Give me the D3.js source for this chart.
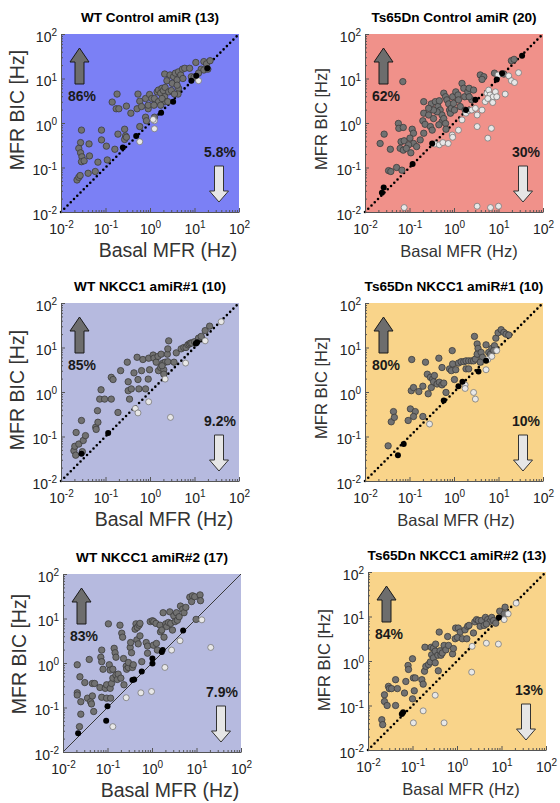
<!DOCTYPE html>
<html><head><meta charset="utf-8">
<script src="https://cdn.jsdelivr.net/npm/d3@7"></script>
<style>body{margin:0;background:#fff}svg{display:block}</style>
</head><body>
<script>
// ---------- DATA (values are log10 of Hz: [log10 Basal MFR, log10 MFR BIC]) ----------
const titles = ["WT Control amiR (13)", "Ts65Dn Control amiR (20)", "WT NKCC1 amiR#1 (10)",
  "Ts65Dn NKCC1 amiR#1 (10)", "WT NKCC1 amiR#2 (17)", "Ts65Dn NKCC1 amiR#2 (13)"];
const pctUp = ["86%", "62%", "85%", "80%", "83%", "84%"];
const pctDown = ["5.8%", "30%", "9.2%", "10%", "7.9%", "13%"];
const tickValues = [0.01, 0.1, 1, 10, 100];

const p1Gray = [[-1.64,-1.28],[-1.60,-1.22],[-1.57,-1.18],[-1.54,-0.16],[-1.56,-0.44],[-1.60,-0.57],[-1.56,-0.67],[-1.53,-0.76],[-1.54,-0.87],[-1.48,-0.85],[-1.36,-0.74],[-1.37,-0.47],[-1.39,-1.13],[-1.23,-1.09],[-1.17,-0.88],[-1.09,-0.16],[-1.09,-0.38],[-0.98,-0.52],[-0.96,-0.83],[-0.79,-0.59],[-0.72,-0.25],[-0.57,-0.14],[-0.55,-0.29],[-0.57,-0.37],[-0.53,-0.32],[-0.74,0.65],[-0.85,0.47],[-0.76,0.32],[-0.70,0.32],[-0.53,0.38],[-0.43,0.22],[-0.27,0.65],[-0.29,0.32],[-0.23,0.49],[-0.19,0.37],[-0.10,0.55],[-0.04,0.32],[-0.01,0.64],[0.04,0.55],[-0.10,0.13],[-0.08,0.05],[-0.23,-0.08],[-0.04,0.40],[0.10,0.55],[0.16,0.70],[0.19,0.74],[0.24,0.67],[0.27,0.78],[0.30,0.73],[0.34,0.80],[0.33,0.59],[0.34,0.48],[0.33,1.10],[0.38,0.95],[0.45,1.08],[0.50,0.89],[0.53,1.04],[0.57,1.12],[0.61,0.97],[0.64,1.15],[0.69,1.08],[0.73,1.21],[0.78,1.23],[0.74,1.00],[0.64,0.78],[0.63,0.65],[0.61,0.85],[0.42,0.70],[0.48,0.73],[0.55,0.65],[0.19,0.48],[0.24,0.40],[0.27,0.55],[0.40,0.48],[0.09,0.40],[0.10,0.13],[0.89,1.23],[1.03,1.36],[1.21,1.38],[1.27,1.33],[1.35,1.40],[1.15,1.21],[1.21,1.19],[1.30,1.21],[0.93,1.04],[0.99,1.03],[1.09,1.12]];
const p1White = [[0.10,0.05],[0.10,-0.13],[-0.23,-0.42],[1.09,0.95],[0.07,0.08]];
const p1Black = [[-0.61,-0.55],[-0.31,-0.29],[0.25,0.23],[0.52,0.48],[0.93,0.95],[1.04,1.06],[1.29,1.23]];

const p2Gray = [[-1.15,0.93],[-1.57,-0.25],[-1.66,-0.46],[-1.43,-0.59],[-1.47,-1.07],[-1.42,-1.09],[-1.29,-1.00],[-1.17,-1.06],[-1.25,-0.01],[-1.24,-0.12],[-1.14,-0.10],[-0.94,-0.14],[-0.91,-0.23],[-1.19,-0.42],[-1.12,-0.40],[-0.99,-0.34],[-0.91,-0.46],[-1.02,-0.49],[-1.21,-0.57],[-1.14,-0.61],[-1.07,-0.57],[-0.97,-0.67],[-0.84,-0.53],[-0.76,-0.38],[-0.68,-0.23],[-0.70,0.05],[-0.68,0.22],[-0.65,-0.03],[-0.53,-0.08],[-0.49,-0.16],[-0.68,0.48],[-0.51,0.43],[-0.42,0.48],[-0.36,0.37],[-0.33,0.50],[-0.31,0.29],[-0.27,0.18],[-0.23,0.67],[-0.19,0.59],[-0.16,0.52],[-0.12,0.43],[-0.10,0.29],[-0.08,0.22],[-0.06,0.33],[-0.03,0.59],[-0.01,0.44],[0.01,0.29],[0.04,0.70],[0.09,0.63],[0.10,0.52],[0.14,0.37],[0.18,0.89],[0.22,0.78],[0.24,0.59],[0.25,0.29],[0.31,0.70],[0.34,0.78],[0.40,0.52],[0.44,0.74],[0.34,0.59],[0.59,1.08],[0.67,1.04],[0.63,0.98],[0.91,1.12],[1.12,1.10],[1.29,1.40],[1.35,1.43],[-0.57,0.18],[-0.46,0.10],[-0.38,0.25],[-0.27,0.03],[-0.23,0.10],[-0.19,-0.01],[-0.18,-0.14],[-0.46,0.29],[-0.57,0.33],[-0.34,-0.04]];
const p2White = [[-0.43,-0.47],[-0.33,-0.49],[-0.25,-0.44],[-0.13,-0.46],[-0.04,-0.27],[-0.03,-0.32],[0.10,-0.16],[0.18,0.07],[0.27,0.22],[0.33,0.28],[0.40,0.29],[0.52,0.18],[0.52,-0.08],[0.48,0.33],[0.63,0.29],[0.70,0.48],[0.74,0.67],[0.78,0.74],[0.81,0.63],[0.85,0.52],[0.88,0.59],[0.93,0.70],[0.96,0.59],[0.87,0.46],[0.76,0.55],[0.84,-0.12],[0.76,-0.34],[0.99,1.08],[1.15,0.65],[1.23,1.06],[1.29,0.95],[1.36,0.91],[1.45,1.13],[-1.12,-1.90],[0.52,-1.87],[0.82,-1.90],[1.00,-1.87]];
const p2Black = [[-1.62,-1.57],[-1.58,-1.45],[-0.93,-0.92],[-0.49,-0.46],[0.27,0.29],[0.48,0.52],[0.96,0.98],[1.08,1.12],[1.53,1.51]];

const p3Gray = [[-1.71,-1.32],[-1.69,-1.22],[-1.67,-1.42],[-1.60,-1.17],[-1.52,-1.34],[-1.66,-0.91],[-1.54,-0.64],[-1.50,-1.09],[-1.45,-0.98],[-1.22,-0.79],[-1.17,-0.68],[-1.21,-0.84],[-1.18,-0.42],[-1.13,-0.16],[-1.10,0.05],[-1.02,-0.16],[-0.87,-0.16],[-0.72,-0.46],[-0.87,0.33],[-0.83,0.28],[-0.66,0.48],[-0.51,0.67],[-0.49,0.23],[-0.49,0.03],[-0.46,-0.16],[-0.42,0.07],[-0.36,0.43],[-0.29,0.78],[-0.27,0.28],[-0.25,0.07],[-0.19,0.48],[-0.16,0.73],[-0.10,0.07],[-0.04,0.29],[-0.03,0.76],[-0.01,0.50],[0.07,0.83],[0.09,0.76],[0.14,0.67],[0.18,0.80],[0.19,0.48],[0.24,0.55],[0.25,0.85],[0.29,0.65],[0.31,0.50],[0.34,0.67],[0.39,0.85],[0.42,1.15],[0.40,0.68],[0.40,0.97],[0.27,0.59],[0.31,0.40],[0.59,0.88],[0.70,0.97],[0.76,1.00],[0.81,1.00],[0.85,1.06],[0.88,1.08],[0.91,1.10],[0.94,1.10],[1.00,1.13],[1.09,1.21],[1.15,1.25],[1.24,1.38],[1.34,1.48],[0.54,0.67]];
const p3White = [[-0.33,-0.37],[-0.27,-0.47],[-0.03,-0.22],[0.34,0.29],[0.46,-0.57],[0.80,0.65],[1.24,1.15],[1.60,1.58]];
const p3Black = [[-1.54,-1.39],[-0.94,-0.92],[1.06,1.12],[1.03,1.09]];

const p4Gray = [[-1.48,-1.21],[-1.41,-0.67],[-1.36,-0.44],[-1.34,-0.57],[-0.98,-0.38],[-1.03,-0.64],[-0.87,-0.44],[-0.91,-0.55],[-0.70,-0.55],[-0.95,0.73],[-0.96,0.03],[-0.91,0.10],[-0.79,0.01],[-0.70,0.13],[-0.64,0.67],[-0.60,0.40],[-0.58,-0.04],[-0.53,0.33],[-0.51,0.10],[-0.48,0.29],[-0.46,0.23],[-0.44,0.37],[-0.38,0.18],[-0.34,0.76],[-0.33,0.22],[-0.27,0.16],[-0.27,0.55],[-0.23,0.20],[-0.18,-0.01],[-0.10,0.52],[-0.06,0.48],[-0.04,0.93],[-0.03,0.63],[0.01,0.28],[0.04,0.50],[0.10,0.65],[0.16,0.68],[0.22,0.68],[0.27,0.70],[0.33,0.70],[0.39,0.70],[0.44,0.70],[0.48,0.74],[0.46,1.25],[0.52,1.08],[0.54,0.98],[0.57,0.85],[0.52,0.85],[0.61,0.89],[0.64,0.78],[0.59,0.67],[0.72,1.06],[0.78,0.89],[0.82,0.85],[0.85,0.98],[0.91,1.04],[0.94,1.21],[0.99,1.33],[1.06,1.40],[1.12,1.34],[1.17,1.30],[1.23,1.28],[0.89,0.93],[0.27,0.52],[0.33,0.52]];
const p4White = [[-0.55,-0.72],[0.25,0.16],[0.25,0.08],[0.44,-0.01],[0.48,-0.16],[0.72,0.50],[0.76,0.73],[0.85,0.80],[0.96,0.93]];
const p4Black = [[-1.26,-1.42],[-1.13,-1.17],[-0.23,-0.19],[0.10,0.13],[0.19,0.23],[0.55,0.46],[0.72,0.70]];

const p5Gray = [[-1.68,-0.04],[-1.68,-0.67],[-1.68,-0.72],[-1.62,-0.31],[-1.60,-0.87],[-1.60,-1.15],[-1.63,-1.43],[-1.51,-0.44],[-1.45,-0.79],[-1.41,0.08],[-1.38,-0.87],[-1.36,-0.92],[-1.34,-0.74],[-1.34,-0.46],[-1.29,-0.46],[-1.31,-1.09],[-1.17,-0.55],[-1.13,0.29],[-1.15,0.13],[-1.13,0.03],[-1.13,-0.77],[-1.10,-0.14],[-1.05,-0.57],[-1.02,-0.49],[-1.02,-0.79],[-0.98,0.88],[-0.96,-0.04],[-0.94,-0.16],[-0.94,-0.57],[-0.93,-0.79],[-0.91,-0.46],[-0.88,-0.14],[-0.88,-0.34],[-0.85,0.33],[-0.83,0.23],[-0.81,0.13],[-0.81,-0.27],[-0.78,-0.37],[-0.76,-0.25],[-0.72,0.85],[-0.70,-0.34],[-0.68,0.67],[-0.66,0.58],[-0.64,0.10],[-0.63,-0.49],[-0.58,-0.07],[-0.57,-0.14],[-0.53,-0.10],[-0.53,0.01],[-0.49,0.35],[-0.48,0.46],[-0.46,0.23],[-0.44,-0.10],[-0.42,-0.04],[-0.38,0.76],[-0.36,0.88],[-0.34,0.52],[-0.33,0.80],[-0.31,0.43],[-0.29,0.85],[-0.27,0.89],[-0.27,0.61],[-0.23,0.03],[-0.13,0.46],[-0.10,0.38],[-0.10,0.22],[-0.04,0.93],[0.01,0.95],[0.04,0.93],[0.09,0.89],[0.12,0.29],[0.18,0.85],[0.19,0.70],[0.22,0.74],[0.25,1.13],[0.27,0.58],[0.31,0.88],[0.33,0.82],[0.37,0.91],[0.40,1.15],[0.42,0.89],[0.46,0.74],[0.49,1.06],[0.52,0.93],[0.55,1.13],[0.57,0.96],[0.61,1.04],[0.64,1.28],[0.69,1.21],[0.72,1.13],[0.76,1.25],[0.85,1.48],[0.89,1.38],[0.91,1.51],[0.96,1.49],[1.08,1.53],[1.09,1.40],[0.99,0.98],[0.03,0.40],[0.10,0.44]];
const p5White = [[-0.88,-1.43],[-0.58,-0.78],[-0.25,-0.67],[-0.01,-0.64],[0.29,-0.10],[0.44,0.29],[0.63,0.50],[1.12,0.97],[1.32,0.35]];
const p5Black = [[-1.66,-1.58],[-1.03,-1.30],[-1.00,-0.97],[-0.44,-0.38],[-0.40,-0.37],[-0.23,-0.19],[0.01,-0.01],[0.01,0.10],[0.22,0.25],[0.24,0.29],[0.70,0.73]];

const p6Gray = [[-1.69,-1.32],[-1.67,-1.43],[-1.63,-0.76],[-1.63,-0.91],[-1.57,-1.00],[-1.54,-0.57],[-1.52,-0.62],[-1.47,-0.62],[-1.38,-0.42],[-1.38,-1.00],[-1.34,-0.62],[-1.18,-0.72],[-1.15,-0.46],[-1.10,-0.10],[-1.09,-0.19],[-1.00,0.05],[-0.98,-0.38],[-0.96,-0.67],[-0.94,-0.38],[-1.00,-0.85],[-0.79,-0.42],[-0.76,-0.52],[-0.73,-0.23],[-0.72,0.31],[-0.70,-0.12],[-0.64,-0.08],[-0.60,-0.02],[-0.58,0.31],[-0.57,0.14],[-0.53,0.07],[-0.53,0.29],[-0.49,0.22],[-0.49,-0.04],[-0.48,0.38],[-0.43,0.13],[-0.42,-0.22],[-0.40,0.65],[-0.38,0.23],[-0.36,0.13],[-0.33,0.18],[-0.29,0.35],[-0.25,0.25],[-0.21,0.55],[-0.19,0.35],[-0.10,0.16],[-0.08,0.28],[-0.04,0.50],[-0.03,0.74],[0.03,0.74],[0.01,0.53],[0.07,0.65],[0.12,0.50],[0.18,0.70],[0.22,0.50],[0.24,0.78],[0.27,0.80],[0.37,0.63],[0.40,0.88],[0.44,0.93],[0.48,0.91],[0.52,0.78],[0.55,0.91],[0.61,0.80],[0.64,0.98],[0.69,0.93],[0.74,0.89],[0.78,0.98],[0.82,0.91],[0.87,0.85],[0.96,1.12],[1.08,1.21],[1.06,1.06],[0.66,0.83]];
const p6White = [[-0.98,-1.39],[-0.76,-1.12],[-0.49,-0.77],[-0.29,-1.39],[0.33,-0.25],[0.34,0.33],[0.66,0.40],[0.93,0.38],[1.06,0.93],[1.15,1.06],[1.33,1.30]];
const p6Black = [[-1.24,-1.19],[-1.21,-1.15],[0.94,0.98]];

const grayPts = [p1Gray, p2Gray, p3Gray, p4Gray, p5Gray, p6Gray];
const whitePts = [p1White, p2White, p3White, p4White, p5White, p6White];
const blackPts = [p1Black, p2Black, p3Black, p4Black, p5Black, p6Black];

// ---------- LAYOUT / STYLE ----------
const bgColors = ["#7b80f5", "#f0918a", "#b6badf", "#f9d48a", "#b6badf", "#f9d48a"];
const origins = [[61,34],[365,34],[61,303],[365,303],[63,574],[368,572]];
const labelSize = [19.5, 16.5, 19.5, 16.5, 19.5, 16.5];
const xLabelShift = [18, 5, 14, 2, 18, 4];
const yLabelShift = [-13, -4, -2, -4, -9, -1];
const S = 178;
const font = "'Liberation Sans', Arial, sans-serif";

const svg = d3.select("body").append("svg").attr("width", 560).attr("height", 803)
  .style("font-family", font);

const x = d3.scaleLog().domain([0.01, 100]).range([0, S]);
const y = d3.scaleLog().domain([0.01, 100]).range([S, 0]);
const toHz = d => [Math.pow(10, d[0]), Math.pow(10, d[1])];

const minor = [];
for (let e = -2; e < 2; e++) for (let k = 2; k <= 9; k++) minor.push(k * Math.pow(10, e));

function supLabel(sel) {
  sel.each(function(d) {
    const t = d3.select(this);
    const exp = Math.round(Math.log10(d));
    t.text(null);
    t.append("tspan").text("10");
    t.append("tspan").attr("dy", "-0.55em").attr("font-size", "10px").text(String(exp));
  });
}

titles.forEach((title, i) => {
  const g = svg.append("g").attr("transform", `translate(${origins[i][0]},${origins[i][1]})`);
  g.append("rect").attr("width", S).attr("height", S).attr("fill", bgColors[i]);

  // diagonal
  const diag = g.append("line")
    .attr("x1", x(0.01)).attr("y1", y(0.01)).attr("x2", x(100)).attr("y2", y(100));
  if (i === 4) {
    diag.attr("stroke", "#3a3a3a").attr("stroke-width", 1);
  } else {
    diag.attr("stroke", "#000").attr("stroke-width", 2.6)
      .attr("stroke-linecap", "round").attr("stroke-dasharray", "0 4.6");
  }

  // axes: minor ticks
  g.append("g").call(d3.axisLeft(y).tickValues(minor).tickSize(-2).tickFormat("").tickSizeOuter(0))
    .call(a => a.select(".domain").remove()).selectAll("line").attr("stroke", "#555");
  g.append("g").attr("transform", `translate(0,${S})`)
    .call(d3.axisBottom(x).tickValues(minor).tickSize(-2).tickFormat("").tickSizeOuter(0))
    .call(a => a.select(".domain").remove()).selectAll("line").attr("stroke", "#555");

  const ya = g.append("g").call(d3.axisLeft(y).tickValues(tickValues).tickSize(-4).tickSizeOuter(0).tickPadding(4));
  ya.select(".domain").attr("stroke", "#555");
  ya.selectAll("line").attr("stroke", "#555");
  ya.selectAll("text").attr("font-size", 14).attr("fill", "#222").attr("dy", "0.5em").call(supLabel);

  const xa = g.append("g").attr("transform", `translate(0,${S})`)
    .call(d3.axisBottom(x).tickValues(tickValues).tickSize(-4).tickSizeOuter(0).tickPadding(12));
  xa.select(".domain").attr("stroke", "#555");
  xa.selectAll("line").attr("stroke", "#555");
  xa.selectAll("text").attr("font-size", 14).attr("fill", "#222").attr("dy", "0.71em").call(supLabel);

  // points
  g.append("g").selectAll("circle").data(grayPts[i].map(toHz)).join("circle")
    .attr("cx", d => x(d[0])).attr("cy", d => y(d[1])).attr("r", 3.2)
    .attr("fill", "#717171").attr("stroke", "#3c3c3c").attr("stroke-width", 0.8);
  g.append("g").selectAll("circle").data(whitePts[i].map(toHz)).join("circle")
    .attr("cx", d => x(d[0])).attr("cy", d => y(d[1])).attr("r", 3)
    .attr("fill", "#e8e8e8").attr("stroke", "#7a7a7a").attr("stroke-width", 0.8);
  g.append("g").selectAll("circle").data(blackPts[i].map(toHz)).join("circle")
    .attr("cx", d => x(d[0])).attr("cy", d => y(d[1])).attr("r", 3)
    .attr("fill", "#000");

  // arrows
  g.append("path").attr("d", "M18.5,14 L28,28 L23,28 L23,50 L14,50 L14,28 L9,28 Z")
    .attr("fill", "#6d6d6d").attr("stroke", "#1a1a1a").attr("stroke-width", 1);
  g.append("path").attr("d", "M153.5,132 L162.5,132 L162.5,157 L167.5,157 L158,168 L148.5,157 L153.5,157 Z")
    .attr("fill", "#e6e6e6").attr("stroke", "#333").attr("stroke-width", 1);

  g.append("text").attr("x", 7).attr("y", 67).attr("font-size", 14).attr("font-weight", "bold")
    .attr("fill", "#1a1a1a").text(pctUp[i]);
  g.append("text").attr("x", 175).attr("y", 123).attr("text-anchor", "end").attr("font-size", 14)
    .attr("font-weight", "bold").attr("fill", "#1a1a1a").text(pctDown[i]);

  // titles and axis labels
  g.append("text").attr("x", S / 2).attr("y", -12).attr("text-anchor", "middle")
    .attr("font-size", 13.6).attr("font-weight", "bold").attr("fill", "#000").text(title);
  g.append("text").attr("x", S / 2 + xLabelShift[i]).attr("y", S + 45).attr("text-anchor", "middle")
    .attr("font-size", labelSize[i]).attr("fill", "#333").text("Basal MFR (Hz)");
  g.append("text").attr("transform", `translate(${-44 + labelSize[i] * 0.36},${S / 2 + yLabelShift[i]}) rotate(-90)`)
    .attr("text-anchor", "middle").attr("font-size", labelSize[i]).attr("fill", "#333").text("MFR BIC [Hz]");
});
</script>
</body></html>
